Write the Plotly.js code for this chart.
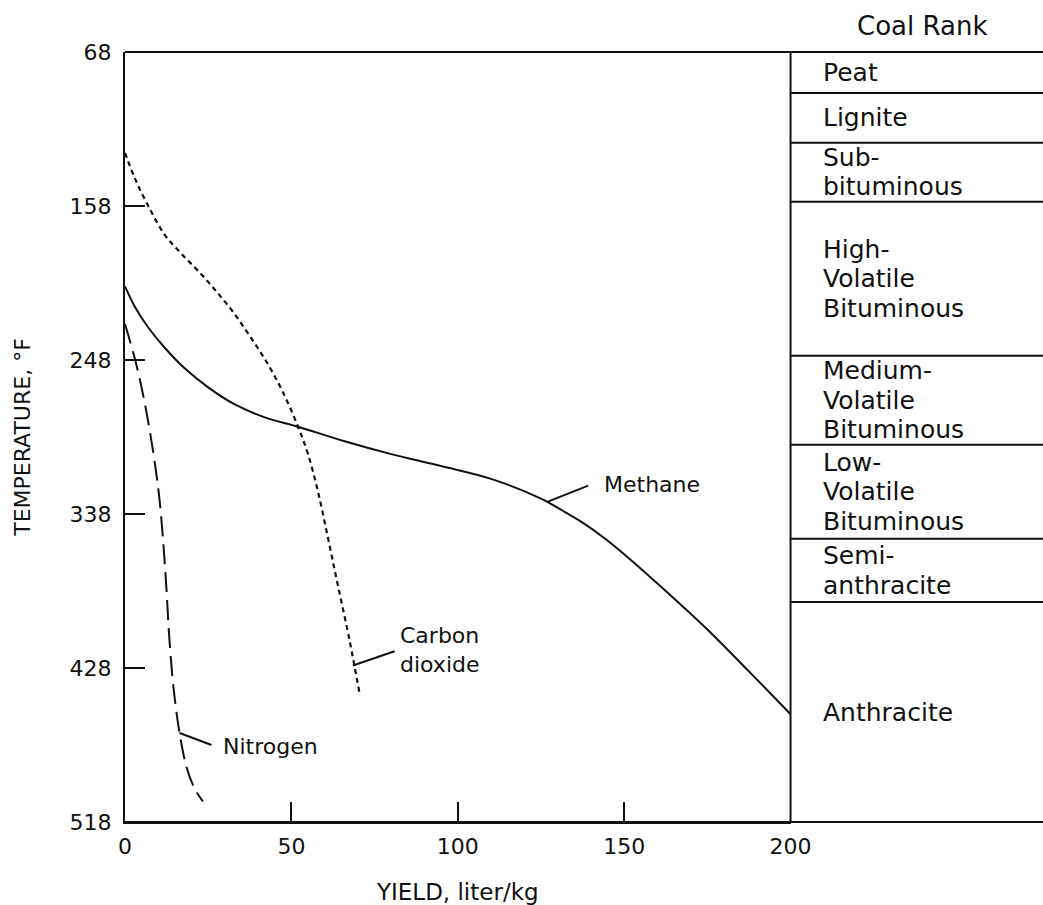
<!DOCTYPE html>
<html>
<head>
<meta charset="utf-8">
<script src="https://cdn.plot.ly/plotly-3.0.1.min.js"></script>
<style>html,body{margin:0;padding:0;background:#fff;}#chart{width:1043px;height:905px;}</style>
</head>
<body>
<div id="chart"></div>
<script>
// ---- data ----
const X_TICKS = [0, 50, 100, 150, 200];
const Y_TICKS = [68, 158, 248, 338, 428, 518];

const methaneX = [0, 3, 7, 12, 18, 25, 33, 42, 52, 66, 80, 95, 110, 125, 131, 137.5, 144, 150, 162.5, 175, 187.5, 200];
const methaneT = [205, 217, 229, 241, 253, 264, 274, 281.5, 287, 295.5, 303, 310, 317.5, 329, 335.5, 343, 352, 361.5, 383, 405.5, 430, 455];

const co2X = [0, 3, 7, 12, 17, 22.5, 27.5, 32.5, 37.5, 42.5, 47.5, 52, 55, 58, 61, 64, 67.5, 70.5];
const co2T = [127, 142, 158, 175, 186, 197, 208, 220, 234, 249, 267, 287, 303, 325, 352, 380, 412, 443];

const nitrogenX = [0, 3.2, 5.6, 7.5, 9.1, 10.4, 11.5, 12.4, 13.3, 14.6, 16.4, 18.5, 20.8, 23.4];
const nitrogenT = [227, 249, 270, 290, 310, 330, 355, 380, 410, 440, 466, 486, 498, 506];

const rankNames = ["Peat", "Lignite", "Sub-\nbituminous", "High-\nVolatile\nBituminous",
  "Medium-\nVolatile\nBituminous", "Low-\nVolatile\nBituminous", "Semi-\nanthracite", "Anthracite"];
const rankBounds = [68, 92, 121, 155.5, 245.5, 297.5, 352.5, 389.5, 518];

// curve labels: text, pointer start (on curve), pointer end, text anchor
const curveLabels = [
  {text: "Methane", p0: [127.1, 330.8], p1: [139.2, 321.4], at: [143.3, 320.5]},
  {text: "Carbon<br>dioxide", p0: [68.5, 426.5], p1: [81.0, 418.2], at: [81.9, 417.4]},
  {text: "Nitrogen", p0: [16.4, 466], p1: [26.0, 473], at: [28.9, 473.9]}
];

// ---- layout constants ----
const FONT = "DejaVu Sans, Liberation Sans, Arial, sans-serif";
const INK = "#111";
const D = 0.725; // x-domain end (where the coal-rank column begins)

const traces = [
  {x: methaneX, y: methaneT, mode: "lines", name: "Methane",
   line: {color: INK, width: 2, shape: "spline", smoothing: 1}},
  {x: co2X, y: co2T, mode: "lines", name: "Carbon dioxide",
   line: {color: INK, width: 2.2, dash: "5px,4px", shape: "spline", smoothing: 1}},
  {x: nitrogenX, y: nitrogenT, mode: "lines", name: "Nitrogen",
   line: {color: INK, width: 2, dash: "20px,8px", shape: "spline", smoothing: 1}}
];

const shapes = [
  {type: "line", xref: "paper", yref: "paper", x0: 0, x1: 1, y0: 1, y1: 1, line: {color: INK, width: 2}},
  {type: "line", xref: "paper", yref: "paper", x0: 0, x1: 1, y0: 0, y1: 0, line: {color: INK, width: 2}},
  {type: "line", xref: "paper", yref: "paper", x0: D, x1: D, y0: 0, y1: 1, line: {color: INK, width: 2}}
];
for (let i = 1; i < rankBounds.length - 1; i++) {
  shapes.push({type: "line", xref: "paper", yref: "y", x0: D, x1: 1, y0: rankBounds[i], y1: rankBounds[i],
    line: {color: INK, width: 2}});
}
curveLabels.forEach(l => {
  shapes.push({type: "line", xref: "x", yref: "y", x0: l.p0[0], y0: l.p0[1], x1: l.p1[0], y1: l.p1[1],
    line: {color: INK, width: 2}});
});

const annotations = [];
annotations.push({text: "Coal Rank", xref: "paper", yref: "paper", x: (D + 1) / 2, y: 1,
  xanchor: "center", yanchor: "middle", xshift: 5, yshift: 26, showarrow: false,
  font: {family: FONT, size: 26, color: INK}});
// coal-rank labels, one annotation per text line so the spacing can be set
const RANK_FS = 25;
const LH = 29.5;
rankNames.forEach((name, i) => {
  const lines = name.split("\n");
  const mid = (rankBounds[i] + rankBounds[i + 1]) / 2;
  lines.forEach((ln, j) => {
    annotations.push({text: ln, xref: "paper", yref: "y", x: D, y: mid,
      xanchor: "left", yanchor: "middle", xshift: 30, yshift: ((lines.length - 1) / 2 - j) * LH,
      showarrow: false, font: {family: FONT, size: RANK_FS, color: INK}});
  });
});
curveLabels.forEach(l => {
  annotations.push({text: l.text, x: l.at[0], y: l.at[1], xref: "x", yref: "y",
    xanchor: "left", yanchor: "middle", align: "left", showarrow: false,
    font: {family: FONT, size: 22, color: INK}});
});

const layout = {
  width: 1043, height: 905,
  margin: {l: 125, r: 0, t: 52, b: 83},
  paper_bgcolor: "#fff", plot_bgcolor: "#fff",
  showlegend: false,
  font: {family: FONT, size: 22, color: INK},
  xaxis: {
    domain: [0, D], range: [0, 200], tickvals: X_TICKS, ticktext: X_TICKS.map(String),
    ticks: "inside", ticklen: 20, tickwidth: 2, tickcolor: INK,
    showline: true, linewidth: 2, linecolor: INK, showgrid: false, zeroline: false,
    ticklabelstandoff: 4,
    tickfont: {family: FONT, size: 22, color: INK},
    title: {text: "YIELD, liter/kg", standoff: 30, font: {family: FONT, size: 23, color: INK}}
  },
  yaxis: {
    range: [518, 68], tickvals: Y_TICKS, ticktext: Y_TICKS.map(String),
    ticks: "inside", ticklen: 20, tickwidth: 2, tickcolor: INK,
    showline: true, linewidth: 2, linecolor: INK, showgrid: false, zeroline: false,
    ticklabelstandoff: 7,
    tickfont: {family: FONT, size: 22, color: INK},
    title: {text: "TEMPERATURE, °F", standoff: 33, font: {family: FONT, size: 22, color: INK}}
  },
  shapes: shapes,
  annotations: annotations
};

Plotly.newPlot("chart", traces, layout, {displayModeBar: false, staticPlot: true});
</script>
</body>
</html>
